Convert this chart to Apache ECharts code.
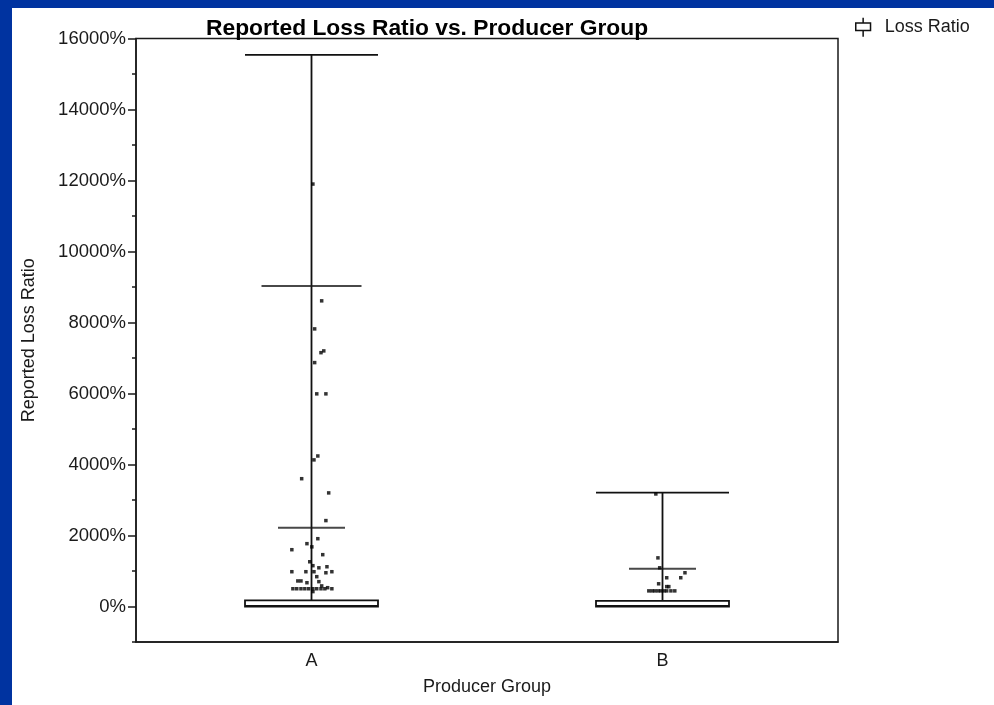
<!DOCTYPE html>
<html>
<head>
<meta charset="utf-8">
<script src="https://cdn.jsdelivr.net/npm/echarts@6/dist/echarts.min.js"></script>
<style>
  html, body { margin: 0; padding: 0; background: #0033a0; }
  #paper { position: absolute; left: 12px; top: 8px; width: 982px; height: 697px; background: #fff; }
  #main { position: absolute; left: 0; top: 0; width: 994px; height: 705px; }
</style>
</head>
<body>
<div id="paper"></div>
<div id="main"></div>
<script>
// categories and box stats: [min, Q1, median, Q3, max]
var categories = ['A', 'B'];
var boxData = [
  [0, 0, 20, 170, 15540],
  [0, 0, 20, 160, 3210]
];

// extra percentile lines drawn across the whisker
var refGroup = [0, 0, 1];
var refValues = [9030, 2220, 1060];

// outliers: [offset from group centre (in category units), value]
var pointsA = [
  [0.004, 11900], [0.029, 8610], [0.009, 7820], [0.027, 7150], [0.035, 7200],
  [0.009, 6870], [0.015, 5990], [0.041, 5990], [0.018, 4240], [0.007, 4130],
  [-0.028, 3600], [0.049, 3200], [0.041, 2420], [0.018, 1910], [-0.013, 1770],
  [0.001, 1680], [-0.056, 1600], [0.032, 1460], [-0.005, 1260], [0.004, 1150],
  [0.021, 1090], [0.044, 1120], [-0.056, 980], [-0.016, 980], [0.007, 980],
  [0.058, 980], [0.041, 950], [0.015, 840], [-0.039, 720], [-0.030, 720],
  [-0.013, 670], [0.021, 700], [0.029, 580], [0.046, 530],
  [-0.053, 500], [-0.042, 500], [-0.030, 500], [-0.019, 500], [-0.008, 500],
  [0.004, 500], [0.015, 500], [0.027, 500], [0.038, 500], [0.058, 500],
  [0.004, 420]
];
var pointsB = [
  [-0.019, 3170], [-0.013, 1370], [-0.008, 1090], [0.012, 810], [0.064, 950],
  [0.052, 810], [-0.011, 640], [0.012, 560], [0.018, 560],
  [-0.039, 440], [-0.030, 440], [-0.022, 440], [-0.013, 440], [-0.005, 440],
  [0.004, 440], [0.012, 440], [0.024, 440], [0.035, 440]
];

var yMajorTicks = [0, 2000, 4000, 6000, 8000, 10000, 12000, 14000, 16000];
var yMinorTicks = [-1000, 1000, 3000, 5000, 7000, 9000, 11000, 13000, 15000];

var font = "'Liberation Sans', Arial, sans-serif";
var ink = '#1a1a1a';
var refWidths = [100, 67, 67];

var myChart = echarts.init(document.getElementById('main'));

var outliers = [];
pointsA.forEach(function (p) { outliers.push([0.5 + p[0], p[1]]); });
pointsB.forEach(function (p) { outliers.push([1.5 + p[0], p[1]]); });

var refData = refValues.map(function (v, i) {
  return { value: [refGroup[i], v], symbolSize: [refWidths[i], 2] };
});

var option = {
  backgroundColor: 'transparent',
  animation: false,
  textStyle: { fontFamily: font },
  title: {
    text: 'Reported Loss Ratio vs. Producer Group',
    left: 201,
    top: 12,
    textStyle: { fontFamily: font, fontSize: 22.8, fontWeight: 'bold', color: '#000' }
  },
  legend: {
    left: 850,
    top: 12,
    itemWidth: 15,
    itemHeight: 19,
    itemGap: 10,
    data: [{
      name: 'Loss Ratio',
      icon: 'path://M7,0 L7,5 M0,5 L14,5 L14,12 L0,12 Z M7,12 L7,18'
    }],
    itemStyle: { color: '#fff', borderColor: '#111', borderWidth: 1.5 },
    textStyle: { fontFamily: font, fontSize: 18, color: ink, padding: [0, 0, 0, 9] }
  },
  grid: {
    left: 136,
    right: 156,
    top: 38.5,
    bottom: 63,
    show: true,
    borderColor: ink,
    borderWidth: 1.5,
    backgroundColor: 'transparent'
  },
  xAxis: [
    {
      type: 'category',
      data: categories,
      boundaryGap: true,
      name: 'Producer Group',
      nameLocation: 'middle',
      nameGap: 36,
      nameTextStyle: { fontFamily: font, fontSize: 18, color: ink },
      axisLine: { onZero: false, lineStyle: { color: ink, width: 1.5 } },
      axisTick: { show: false },
      axisLabel: { fontFamily: font, fontSize: 18, color: ink, margin: 10 },
      splitLine: { show: false }
    },
    {
      type: 'value',
      min: 0,
      max: 2,
      show: false
    }
  ],
  yAxis: [
    {
      type: 'value',
      min: -1000,
      max: 16000,
      name: 'Reported Loss Ratio',
      nameLocation: 'middle',
      nameGap: 98,
      nameTextStyle: { fontFamily: font, fontSize: 18, color: ink },
      axisLine: { show: true, onZero: false, lineStyle: { color: ink, width: 1.5 } },
      axisTick: { show: true, length: 8, customValues: yMajorTicks, lineStyle: { color: ink, width: 1.5 } },
      axisLabel: {
        customValues: yMajorTicks,
        fontFamily: font,
        fontSize: 18.5,
        color: ink,
        margin: 10,
        formatter: function (v) { return v + '%'; }
      },
      splitLine: { show: false }
    },
    {
      type: 'value',
      min: -1000,
      max: 16000,
      position: 'left',
      axisLine: { show: false },
      axisTick: { show: true, length: 4, customValues: yMinorTicks, lineStyle: { color: ink, width: 1.5 } },
      axisLabel: { show: false },
      splitLine: { show: false }
    }
  ],
  series: [
    {
      name: 'Loss Ratio',
      type: 'boxplot',
      xAxisIndex: 0,
      yAxisIndex: 0,
      boxWidth: [133, 133],
      itemStyle: { color: '#fff', borderColor: '#111', borderWidth: 1.8 },
      data: boxData,
      z: 3
    },
    {
      type: 'scatter',
      xAxisIndex: 0,
      yAxisIndex: 0,
      symbol: 'rect',
      itemStyle: { color: ink },
      data: refData,
      z: 4
    },
    {
      type: 'scatter',
      xAxisIndex: 1,
      yAxisIndex: 0,
      symbol: 'rect',
      symbolSize: 3.5,
      itemStyle: { color: '#000' },
      data: outliers,
      z: 5
    }
  ]
};

option && myChart.setOption(option);
</script>
</body>
</html>
